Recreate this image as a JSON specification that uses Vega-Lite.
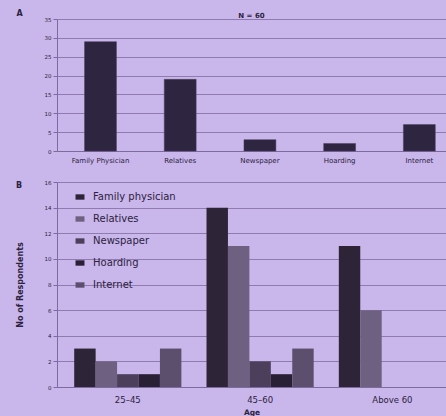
{
  "$schema": "https://vega.github.io/schema/vega-lite/v6.json",
  "background": "#c9b6ea",
  "padding": {"left": 16, "top": 9, "right": 0, "bottom": 3},
  "spacing": 17,
  "resolve": {"legend": {"color": "independent"}},
  "config": {
    "font": "DejaVu Sans",
    "view": {"stroke": null},
    "axis": {
      "labelColor": "#2b2240",
      "titleColor": "#2b2240",
      "domainColor": "#7d6a9e",
      "tickColor": "#7d6a9e",
      "gridColor": "#8f7bb0",
      "gridOpacity": 1,
      "labelFont": "DejaVu Sans",
      "titleFont": "DejaVu Sans"
    },
    "legend": {"labelFont": "DejaVu Sans"},
    "title": {"color": "#2b2240", "font": "DejaVu Sans", "fontWeight": "bold"}
  },
  "vconcat": [
    {
      "width": 389,
      "height": 132,
      "title": {"text": "N = 60", "fontSize": 7, "anchor": "middle", "offset": -10},
      "data": {
        "values": [
          {"source": "Family Physician", "count": 29},
          {"source": "Relatives", "count": 19},
          {"source": "Newspaper", "count": 3},
          {"source": "Hoarding", "count": 2},
          {"source": "Internet", "count": 7}
        ]
      },
      "mark": {"type": "bar", "color": "#2e2540", "stroke": "#4a3f5c", "strokeWidth": 0.5},
      "encoding": {
        "x": {
          "field": "source",
          "type": "nominal",
          "sort": null,
          "scale": {"paddingInner": 0.6, "paddingOuter": 0.24, "align": 0.72},
          "axis": {"title": null, "labelAngle": 0, "labelFontSize": 7, "ticks": false, "labelPadding": 5, "grid": false}
        },
        "y": {
          "field": "count",
          "type": "quantitative",
          "scale": {"domain": [0, 35]},
          "axis": {
            "values": [0, 5, 10, 15, 20, 25, 30, 35],
            "title": "A",
            "titleAngle": 0,
            "titleX": -41,
            "titleY": -6,
            "titleAlign": "left",
            "titleBaseline": "middle",
            "titleFontSize": 8,
            "labelFontSize": 5.5,
            "tickSize": 4,
            "grid": true
          }
        }
      }
    },
    {
      "width": 389,
      "height": 205,
      "title": {"text": "B", "anchor": "start", "frame": "bounds", "fontSize": 8, "offset": 0, "dy": 10},
      "data": {
        "values": [
          {"age": "25–45", "source": "Family physician", "count": 3},
          {"age": "25–45", "source": "Relatives", "count": 2},
          {"age": "25–45", "source": "Newspaper", "count": 1},
          {"age": "25–45", "source": "Hoarding", "count": 1},
          {"age": "25–45", "source": "Internet", "count": 3},
          {"age": "45–60", "source": "Family physician", "count": 14},
          {"age": "45–60", "source": "Relatives", "count": 11},
          {"age": "45–60", "source": "Newspaper", "count": 2},
          {"age": "45–60", "source": "Hoarding", "count": 1},
          {"age": "45–60", "source": "Internet", "count": 3},
          {"age": "Above 60", "source": "Family physician", "count": 11},
          {"age": "Above 60", "source": "Relatives", "count": 6},
          {"age": "Above 60", "source": "Newspaper", "count": 0},
          {"age": "Above 60", "source": "Hoarding", "count": 0},
          {"age": "Above 60", "source": "Internet", "count": 0}
        ]
      },
      "mark": {"type": "bar"},
      "encoding": {
        "x": {
          "field": "age",
          "type": "nominal",
          "sort": ["25–45", "45–60", "Above 60"],
          "scale": {"paddingInner": 0.19, "paddingOuter": 0.065, "align": 1},
          "axis": {"title": "Age", "titleFontSize": 7.5, "titleFontWeight": "bold", "titlePadding": 5, "labelAngle": 0, "labelFontSize": 8.5, "ticks": false, "labelPadding": 8, "grid": false}
        },
        "xOffset": {
          "field": "source",
          "type": "nominal",
          "sort": ["Family physician", "Relatives", "Newspaper", "Hoarding", "Internet"],
          "scale": {"paddingInner": 0, "paddingOuter": 0}
        },
        "y": {
          "field": "count",
          "type": "quantitative",
          "scale": {"domain": [0, 16]},
          "axis": {
            "values": [0, 2, 4, 6, 8, 10, 12, 14, 16],
            "title": "No of Respondents",
            "titleFontSize": 8,
            "titleFontWeight": "bold",
            "titlePadding": 20,
            "labelFontSize": 5.5,
            "tickSize": 4,
            "grid": true
          }
        },
        "color": {
          "field": "source",
          "type": "nominal",
          "scale": {
            "domain": ["Family physician", "Relatives", "Newspaper", "Hoarding", "Internet"],
            "range": ["#2e2438", "#6e6080", "#4b3f5c", "#2a2035", "#5c4f6e"]
          },
          "legend": {
            "title": null,
            "orient": "none",
            "legendX": 18,
            "legendY": 10,
            "symbolType": "M-1,-0.6H1V0.6H-1Z",
            "symbolSize": 80,
            "symbolStrokeWidth": 0,
            "labelFontSize": 10,
            "labelOffset": 8,
            "labelColor": "#2b2240",
            "rowPadding": 12
          }
        }
      }
    }
  ]
}
